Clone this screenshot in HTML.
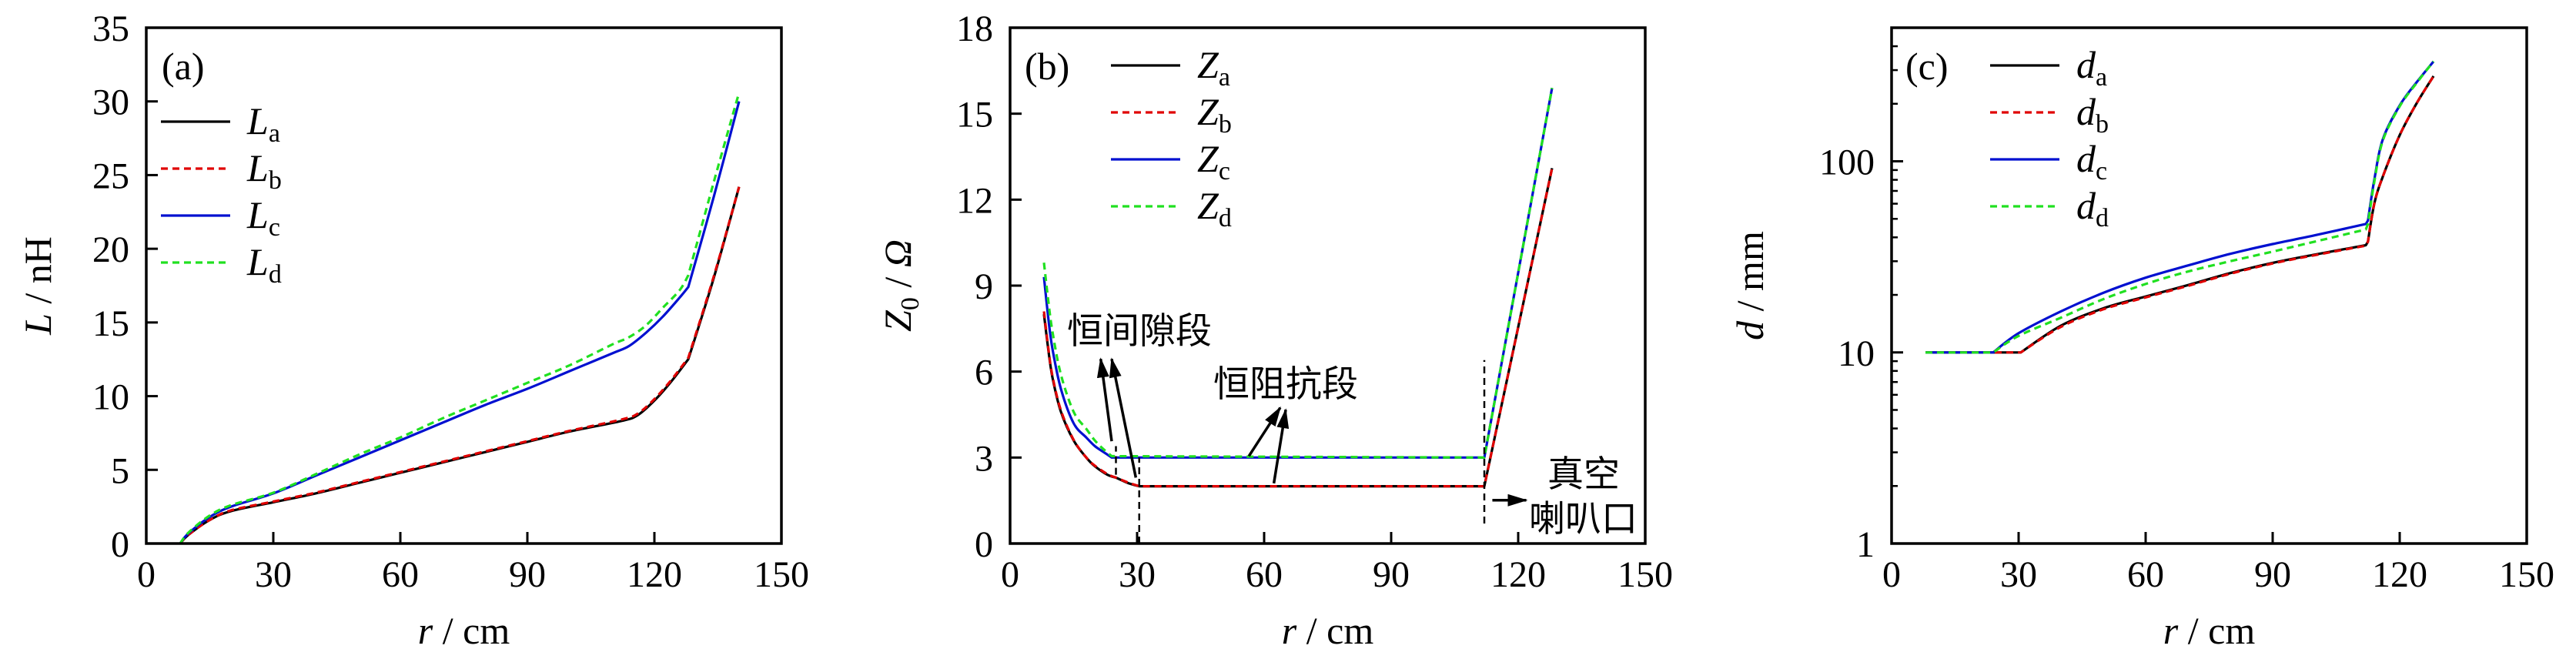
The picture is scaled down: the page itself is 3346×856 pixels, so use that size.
<!DOCTYPE html>
<html><head><meta charset="utf-8">
<style>
html,body{margin:0;padding:0;background:#fff;}
svg{display:block;}
text{font-family:"Liberation Serif","Noto Serif CJK SC",serif;fill:#000;}
.cjk{font-family:"Noto Sans CJK SC","WenQuanYi Zen Hei",sans-serif;}
</style></head>
<body>
<svg id="fig" width="3346" height="856" viewBox="0 0 3346 856" xmlns="http://www.w3.org/2000/svg">
<defs>
<marker id="arr" markerWidth="26" markerHeight="16" refX="24" refY="8" orient="auto" markerUnits="userSpaceOnUse" viewBox="0 0 26 16">
<path d="M0,0 L26,8 L0,16 Z" fill="#000"/></marker>
</defs>
</svg>
<script>
// ---- data: panel (a) inductance ----
const rA_ab = [8,10,15,20,30,40,50,60,70,80,90,100,112,116,120,124,128,134,140];
const La = [0,0.6,1.6,2.2,2.8,3.4,4.1,4.8,5.5,6.2,6.9,7.6,8.3,8.7,9.7,11.0,12.5,18.0,24.2];
const Lb = [0,0.6,1.6,2.25,2.85,3.45,4.15,4.85,5.55,6.25,6.95,7.65,8.4,8.8,9.8,11.1,12.6,18.1,24.2];
const rA_cd = [8,10,15,20,30,40,50,60,70,80,90,100,110,114,118,122,126,128,134,140];
const Lc = [0,0.7,1.8,2.5,3.4,4.6,5.8,7.0,8.2,9.4,10.5,11.7,12.9,13.4,14.3,15.4,16.7,17.4,23.5,30.0];
const Ld = [0,0.75,1.9,2.6,3.45,4.7,6.0,7.2,8.5,9.7,10.9,12.1,13.5,14.0,14.8,16.0,17.2,18.2,24.5,30.6];
// ---- data: panel (b) impedance ----
const rB_ab = [8,9,10,12,15,18,20,23,25,28,30.5,112,128];
const Za = [8.0,6.8,5.8,4.6,3.6,3.0,2.7,2.4,2.3,2.1,2.0,2.0,13.1];
const Zb = [8.1,6.85,5.85,4.65,3.62,3.0,2.72,2.42,2.3,2.12,2.0,2.0,13.1];
const rB_cd = [8,9,10,12,15,18,20,22,24,112,128];
const Zc = [9.3,7.9,6.8,5.4,4.2,3.7,3.4,3.2,3.0,3.0,15.9];
const Zd = [9.8,8.5,7.4,5.9,4.6,4.0,3.6,3.3,3.05,3.0,15.9];
// ---- data: panel (c) gap ----
const rC_ab = [8,30.5,40,50,60,70,80,90,100,112,112.5,114,116,120,124,128];
const da = [10,10,13.8,17,19.6,22.5,26,29.4,32.5,36.4,38,60,83,137,201,279];
const db = [10,10,13.6,16.8,19.4,22.3,25.8,29.2,32.3,36.2,38,60,83,137,201,279];
const rC_cd = [8,24,30,40,50,60,70,80,90,100,112,112.5,114,116,120,124,128];
const dc = [10,10,12.6,16.4,20.5,24.6,28.5,32.8,36.9,41,47,49,80,130,196,259,333];
const dd = [10,10,12.2,15.2,19,22.8,26.5,30,33.7,38,44,47,78,128,194,257,333];

const xTicks = [0,30,60,90,120,150];
const yTicksA = [0,5,10,15,20,25,30,35];
const yTicksB = [0,3,6,9,12,15,18];
const yTicksC = [1,10,100];
const kinksA = [8,128];
const kinksB = [24,25,30.5,112,128];
const kinksC = [24,30.5,112,112.5];

const NS = "http://www.w3.org/2000/svg";
const svg = document.getElementById('fig');
function mk(tag, attrs, parent){
  const e = document.createElementNS(NS, tag);
  for (const k in attrs) e.setAttribute(k, attrs[k]);
  (parent||svg).appendChild(e);
  return e;
}
const TOP=36, BOT=706, W=825;
function makeX(left){ return v => left + v/150*W; }

function axesFrame(g, left, name){
  const r = mk('rect',{x:left,y:TOP,width:W,height:BOT-TOP,fill:'none',stroke:'#000','stroke-width':3.5},g);
  
  
}
function xAxis(g, X, name){
  xTicks.forEach(t=>{
    const x=X(t);
    if(t>0 && t<150){
      const l=mk('line',{x1:x,y1:BOT,x2:x,y2:BOT-15,stroke:'#000','stroke-width':3},g);
      
      
    }
    const tx=mk('text',{x:x,y:762,'font-size':48,'text-anchor':'middle'},g);
    tx.textContent=t;
    
    
  });
  const xc = X(75);
  const tt=mk('text',{x:xc,y:836,'font-size':50,'text-anchor':'middle'},g);
  tt.innerHTML='<tspan font-style="italic">r</tspan> / cm';
  
  
}
function yAxis(g, left, ticks, Y, name, minor){
  ticks.forEach(t=>{
    const y=Y(t);
    if(y>TOP+2 && y<BOT-2){
      const l=mk('line',{x1:left,y1:y,x2:left+15,y2:y,stroke:'#000','stroke-width':3},g);
      
      
    }
    const tx=mk('text',{x:left-22,y:y+17,'font-size':48,'text-anchor':'end'},g);
    tx.textContent=t;
    
    
  });
  if(minor){
    minor.forEach(v=>{
      const y=Y(v);
      if(y<=TOP+2) return;
      const l=mk('line',{x1:left,y1:y,x2:left+8,y2:y,stroke:'#000','stroke-width':2.5},g);
      
      
    });
  }
}
// smooth path through points, breaking smoothness at kink x-values
function smoothPath(xs, ys, X, Y, kinks){
  const P = xs.map((x,i)=>[X(x),Y(ys[i]),x]);
  let d='M'+P[0][0].toFixed(1)+','+P[0][1].toFixed(1);
  const isK = i => i===0 || i===P.length-1 || kinks.indexOf(P[i][2])>=0;
  for(let i=0;i<P.length-1;i++){
    const p0 = isK(i)?P[i]:P[i-1], p1=P[i], p2=P[i+1], p3 = isK(i+1)?P[i+1]:P[i+2];
    const c1=[p1[0]+(p2[0]-p0[0])/6, p1[1]+(p2[1]-p0[1])/6];
    const c2=[p2[0]-(p3[0]-p1[0])/6, p2[1]-(p3[1]-p1[1])/6];
    d+=' C'+c1[0].toFixed(1)+','+c1[1].toFixed(1)+' '+c2[0].toFixed(1)+','+c2[1].toFixed(1)+' '+p2[0].toFixed(1)+','+p2[1].toFixed(1);
  }
  return d;
}
function series(g, xs, ys, X, Y, color, dashed, name, kinks){
  const p = mk('path',{d:smoothPath(xs,ys,X,Y,kinks),fill:'none',stroke:color,'stroke-width':3.2,'stroke-linejoin':'round'},g);
  if(dashed) p.setAttribute('stroke-dasharray','9 6');
  
  
}
function legend(g, x0, y0, sym, entries, name){
  entries.forEach((e,i)=>{
    const y=y0+i*61;
    const l=mk('line',{x1:x0,y1:y,x2:x0+90,y2:y,stroke:e[1],'stroke-width':3.2},g);
    if(e[2]) l.setAttribute('stroke-dasharray','9 6');
    
    
    const t=mk('text',{x:x0+112,y:y+16,'font-size':50},g);
    t.innerHTML='<tspan font-style="italic">'+sym+'</tspan><tspan font-size="34" dy="10">'+e[0]+'</tspan>';
    
    
  });
}
function panelLabel(g, x, lbl, name){
  const t=mk('text',{x:x,y:103,'font-size':50},g);
  t.textContent='('+lbl+')';
  
  
}
function yTitle(g, x, html, name){
  const t=mk('text',{x:0,y:0,'font-size':50,'text-anchor':'middle',transform:'translate('+x+','+((TOP+BOT)/2)+') rotate(-90)'},g);
  t.innerHTML=html;
  
  
}
const LEG = [['a','#000',false],['b','#e00000',true],['c','#0010d0',false],['d','#20e020',true]];

// ---- Panel (a) ----
{
  const g=mk('g',{});
  
  
  const left=190, X=makeX(left), Y=v=>BOT-v/35*(BOT-TOP);
  series(g,rA_ab,La,X,Y,'#000',false,'series-La',kinksA);
  series(g,rA_ab,Lb,X,Y,'#e00000',true,'series-Lb',kinksA);
  series(g,rA_cd,Lc,X,Y,'#0010d0',false,'series-Lc',kinksA);
  series(g,rA_cd,Ld,X,Y,'#20e020',true,'series-Ld',kinksA);
  axesFrame(g,left,'panel-a'); xAxis(g,X,'panel-a'); yAxis(g,left,yTicksA,Y,'panel-a');
  legend(g,209,158,'L',LEG,'panel-a');
  panelLabel(g,210,'a','panel-a');
  yTitle(g,66,'<tspan font-style="italic">L</tspan> / nH','panel-a');
}
// ---- Panel (b) ----
{
  const g=mk('g',{});
  
  
  const left=1312, X=makeX(left), Y=v=>BOT-v/18*(BOT-TOP);
  series(g,rB_ab,Za,X,Y,'#000',false,'series-Za',kinksB);
  series(g,rB_ab,Zb,X,Y,'#e00000',true,'series-Zb',kinksB);
  series(g,rB_cd,Zc,X,Y,'#0010d0',false,'series-Zc',kinksB);
  series(g,rB_cd,Zd,X,Y,'#20e020',true,'series-Zd',kinksB);
  const vl=[[30.5,0,3.0],[25,2.4,3.4],[112,0.7,6.4]];
  vl.forEach(v=>{
    const l=mk('line',{x1:X(v[0]),y1:Y(v[1]),x2:X(v[0]),y2:Y(v[2]),stroke:'#000','stroke-width':2.5,'stroke-dasharray':'9 6'},g);
    
    
  });
  const arrows=[[24.0,3.57,21.4,6.44],[29.7,2.3,24.0,6.44],[56.4,3.05,63.8,4.74],[62.3,2.1,65.1,4.67],[113.9,1.51,121.9,1.51]];
  arrows.forEach(a=>{
    const l=mk('line',{x1:X(a[0]),y1:Y(a[1]),x2:X(a[2]),y2:Y(a[3]),stroke:'#000','stroke-width':3.5,'marker-end':'url(#arr)'},g);
    
    
  });
  const ann=[['恒间隙段',1386,446],['恒阻抗段',1576,515],['真空',2010,632],['喇叭口',1986,690]];
  ann.forEach(a=>{
    const t=mk('text',{x:a[1],y:a[2],'font-size':47,'class':'cjk'},g);
    t.textContent=a[0];
    
    
  });
  axesFrame(g,left,'panel-b'); xAxis(g,X,'panel-b'); yAxis(g,left,yTicksB,Y,'panel-b');
  legend(g,1443,85,'Z',LEG,'panel-b');
  panelLabel(g,1331,'b','panel-b');
  yTitle(g,1183,'<tspan font-style="italic">Z</tspan><tspan font-size="34" dy="10">0</tspan><tspan dy="-10"> / </tspan><tspan font-style="italic">Ω</tspan>','panel-b');
}
// ---- Panel (c) ----
{
  const g=mk('g',{});
  
  
  const left=2457, X=makeX(left), dec=(BOT-TOP)/Math.log10(500);
  const Y=v=>BOT-Math.log10(v)*dec;
  series(g,rC_ab,da,X,Y,'#000',false,'series-da',kinksC);
  series(g,rC_ab,db,X,Y,'#e00000',true,'series-db',kinksC);
  series(g,rC_cd,dc,X,Y,'#0010d0',false,'series-dc',kinksC);
  series(g,rC_cd,dd,X,Y,'#20e020',true,'series-dd',kinksC);
  const minor=[];
  [1,10,100].forEach(b=>{for(let k=2;k<=9;k++) minor.push(b*k);});
  axesFrame(g,left,'panel-c'); xAxis(g,X,'panel-c'); yAxis(g,left,yTicksC,Y,'panel-c',minor);
  legend(g,2585,85,'d',LEG,'panel-c');
  panelLabel(g,2475,'c','panel-c');
  yTitle(g,2290,'<tspan font-style="italic">d</tspan> / mm','panel-c');
}
</script>
</body></html>
